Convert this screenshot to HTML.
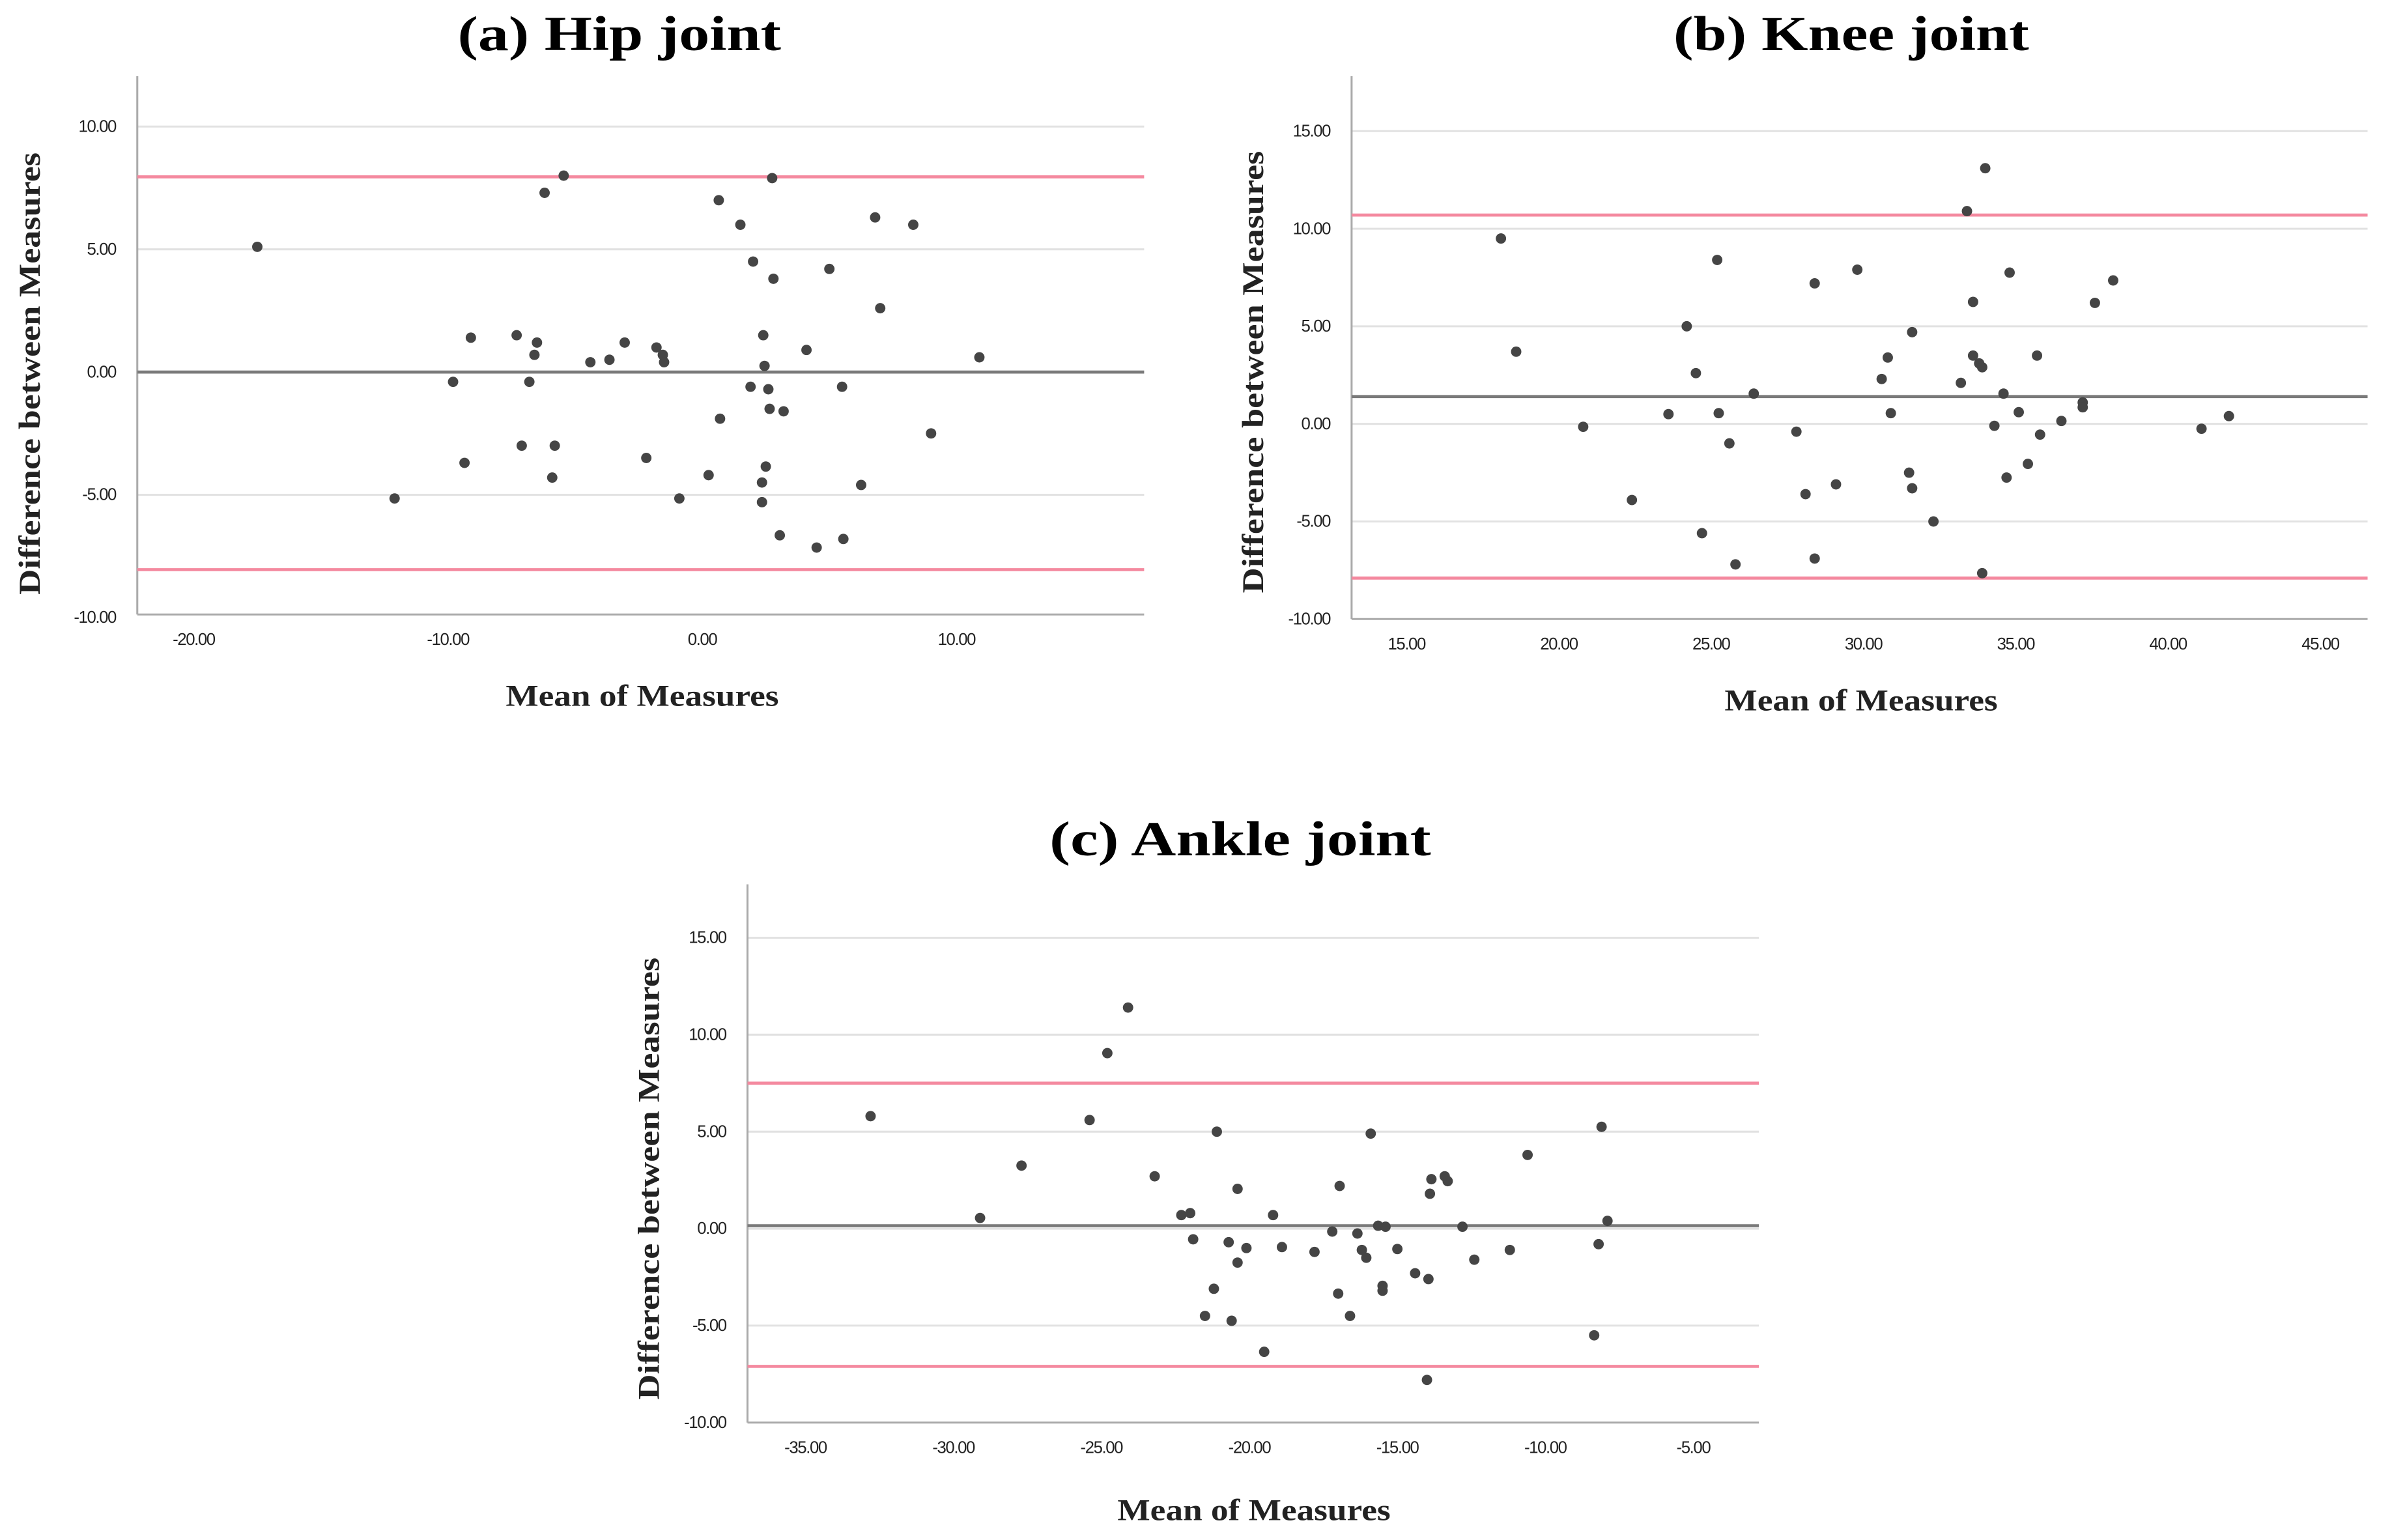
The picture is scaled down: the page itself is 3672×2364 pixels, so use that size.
<!DOCTYPE html>
<html><head><meta charset="utf-8"><style>
html,body{margin:0;padding:0;background:#fff;}
svg{display:block;}
</style></head><body>
<svg id="chart" xmlns="http://www.w3.org/2000/svg" width="3672" height="2364" viewBox="0 0 1568 1010" preserveAspectRatio="none"></svg>
<script>
// ---- Data: (a) Hip joint ----
const hipMean=[-17.5,-5.45,-6.2,0.65,2.75,1.5,6.8,8.3,2.0,2.8,5.0,7.0,-9.1,-7.3,-6.5,-6.6,-3.05,-3.65,-4.4,-1.8,-1.55,-1.5,2.4,4.1,10.9,2.45,-9.8,-6.8,1.9,2.6,5.5,2.65,3.2,0.7,9.0,-9.35,-7.1,-5.8,-2.2,2.5,-5.9,0.25,2.35,6.25,-12.1,-0.9,2.35,3.05,4.5,5.55];
const hipDiff=[5.1,8.0,7.3,7.0,7.9,6.0,6.3,6.0,4.5,3.8,4.2,2.6,1.4,1.5,1.2,0.7,1.2,0.5,0.4,1.0,0.7,0.4,1.5,0.9,0.6,0.25,-0.4,-0.4,-0.6,-0.7,-0.6,-1.5,-1.6,-1.9,-2.5,-3.7,-3.0,-3.0,-3.5,-3.85,-4.3,-4.2,-4.5,-4.6,-5.15,-5.15,-5.3,-6.65,-7.15,-6.8];
const hipLines=[0,7.95,-8.05];
const hipXTicks=[-20,-10,0,10];
const hipYTicks=[10,5,0,-5,-10];
// ---- Data: (b) Knee joint ----
const kneeMean=[18.1,18.6,20.8,22.4,23.6,24.2,24.5,25.2,25.25,24.7,25.6,25.8,26.4,27.8,28.1,28.4,28.4,29.1,29.8,30.6,30.8,30.9,31.6,31.5,31.6,32.3,33.2,33.4,33.6,33.6,33.8,33.9,34.0,33.9,34.3,34.6,34.7,34.8,35.1,35.4,35.7,35.8,36.5,37.2,37.2,37.6,38.2,41.1,42.0];
const kneeDiff=[9.5,3.7,-0.15,-3.9,0.5,5.0,2.6,8.4,0.55,-5.6,-1.0,-7.2,1.55,-0.4,-3.6,7.2,-6.9,-3.1,7.9,2.3,3.4,0.55,4.7,-2.5,-3.3,-5.0,2.1,10.9,6.25,3.5,3.1,2.9,13.1,-7.65,-0.1,1.55,-2.75,7.75,0.6,-2.05,3.5,-0.55,0.15,1.1,0.85,6.2,7.35,-0.25,0.4];
const kneeLines=[1.4,10.7,-7.9];
const kneeXTicks=[15,20,25,30,35,40,45];
const kneeYTicks=[15,10,5,0,-5,-10];
// ---- Data: (c) Ankle joint ----
const ankleMean=[-32.8,-29.1,-27.7,-25.4,-24.8,-24.1,-23.2,-22.3,-22.0,-21.9,-21.5,-21.2,-21.1,-20.7,-20.6,-20.4,-20.4,-20.1,-19.5,-19.2,-18.9,-17.8,-17.2,-17.0,-16.95,-16.6,-16.35,-16.2,-16.05,-15.9,-15.65,-15.5,-15.5,-15.4,-15.0,-14.4,-14.0,-13.9,-13.85,-13.95,-13.4,-13.3,-12.8,-12.4,-11.2,-10.6,-8.35,-8.2,-8.1,-7.9];
const ankleDiff=[5.8,0.55,3.25,5.6,9.05,11.4,2.7,0.7,0.8,-0.55,-4.5,-3.1,5.0,-0.7,-4.75,2.05,-1.75,-1.0,-6.35,0.7,-0.95,-1.2,-0.15,-3.35,2.2,-4.5,-0.25,-1.1,-1.5,4.9,0.15,-2.95,-3.2,0.1,-1.05,-2.3,-7.8,1.8,2.55,-2.6,2.7,2.45,0.1,-1.6,-1.1,3.8,-5.5,-0.8,5.25,0.4];
const ankleLines=[0.15,7.5,-7.1];
const ankleXTicks=[-35,-30,-25,-20,-15,-10,-5];
const ankleYTicks=[15,10,5,0,-5,-10];

const NS='http://www.w3.org/2000/svg';
const svg=document.getElementById('chart');
function mk(tag,attrs,parent){const e=document.createElementNS(NS,tag);for(const k in attrs)e.setAttribute(k,attrs[k]);(parent||svg).appendChild(e);return e;}

function panel(cfg){
  const g=mk('g',{});
  
  
  const xs=v=>cfg.x0px+(v-cfg.x0)*(cfg.x1px-cfg.x0px)/(cfg.x1-cfg.x0);
  const ys=v=>cfg.y0px+(v-cfg.y0)*(cfg.y1px-cfg.y0px)/(cfg.y1-cfg.y0);
  cfg.yTicks.forEach(t=>{
    const y=ys(t);
    if(t!==cfg.yTicks[cfg.yTicks.length-1]){
      const gl=mk('line',{x1:cfg.left,x2:cfg.right,y1:y,y2:y,stroke:'#e2e2e2','stroke-width':1.3},g);
      
      
    }
    const tl=mk('text',{x:cfg.left-14,y:y+3.5,'text-anchor':'end','font-size':11,'font-family':'Liberation Sans, sans-serif',fill:'#222','letter-spacing':'-0.6'},g);
    tl.textContent=t.toFixed(2);
    
    
  });
  cfg.xTicks.forEach(t=>{
    const tl=mk('text',{x:xs(t),y:cfg.bottom+20,'text-anchor':'middle','font-size':11,'font-family':'Liberation Sans, sans-serif',fill:'#222','letter-spacing':'-0.6'},g);
    tl.textContent=t.toFixed(2);
    
    
  });
  const ya=mk('line',{x1:cfg.left,x2:cfg.left,y1:cfg.top,y2:cfg.bottom,stroke:'#aaa','stroke-width':1.3},g);
  
  
  const xa=mk('line',{x1:cfg.left,x2:cfg.right,y1:cfg.bottom,y2:cfg.bottom,stroke:'#aaa','stroke-width':1.3},g);
  
  
  cfg.lines.forEach((v,i)=>{
    const l=mk('line',{x1:cfg.left,x2:cfg.right,y1:ys(v),y2:ys(v),stroke:i===0?'#7a7a7a':'#f4899f','stroke-width':2},g);
    
    
  });
  cfg.mean.forEach((m,i)=>{
    const c=mk('circle',{cx:xs(m),cy:ys(cfg.diff[i]),r:3.4,fill:'#454545'},g);
    
    
  });
  const t=mk('text',{x:cfg.titleX,y:cfg.titleY,'font-size':32,'font-weight':'bold','font-family':'Liberation Serif, serif',fill:'#000',textLength:cfg.titleW,lengthAdjust:'spacingAndGlyphs','xml:space':'preserve'},g);
  t.textContent=cfg.title;
  
  
  const xt=mk('text',{x:cfg.xtX-89.5,y:cfg.xtY,'font-size':20,'font-weight':'bold','font-family':'Liberation Serif, serif',fill:'#222',textLength:179,lengthAdjust:'spacingAndGlyphs'},g);
  xt.textContent='Mean of Measures';
  
  
  const yt=mk('text',{x:-145,y:0,'font-size':20,'font-weight':'bold','font-family':'Liberation Serif, serif',fill:'#222',textLength:290,lengthAdjust:'spacingAndGlyphs',transform:`translate(${cfg.ytX},${cfg.ytY}) rotate(-90)`},g);
  yt.textContent='Difference between Measures';
  
  
}

panel({name:'hip-joint-panel',title:'(a)   Hip joint',titleX:300,titleW:212,titleY:33,
  left:90,right:750,top:50,bottom:403,
  x0:-20,x1:10,x0px:127,x1px:627,y0:10,y1:-10,y0px:83,y1px:405,
  xTicks:hipXTicks,yTicks:hipYTicks,lines:hipLines,mean:hipMean,diff:hipDiff,
  xtX:421,xtY:463,ytX:26,ytY:245});
panel({name:'knee-joint-panel',title:'(b)   Knee joint',titleX:1097,titleW:233,titleY:33,
  left:886,right:1552,top:50,bottom:406,
  x0:15,x1:45,x0px:922,x1px:1521,y0:15,y1:-10,y0px:86,y1px:406,
  xTicks:kneeXTicks,yTicks:kneeYTicks,lines:kneeLines,mean:kneeMean,diff:kneeDiff,
  xtX:1220,xtY:466,ytX:828,ytY:244});
panel({name:'ankle-joint-panel',title:'(c)   Ankle joint',titleX:688,titleW:250,titleY:561,
  left:490,right:1153,top:580,bottom:933,
  x0:-35,x1:-5,x0px:528,x1px:1110,y0:15,y1:-10,y0px:615,y1px:933,
  xTicks:ankleXTicks,yTicks:ankleYTicks,lines:ankleLines,mean:ankleMean,diff:ankleDiff,
  xtX:822,xtY:997,ytX:432,ytY:773});
</script>
</body></html>
